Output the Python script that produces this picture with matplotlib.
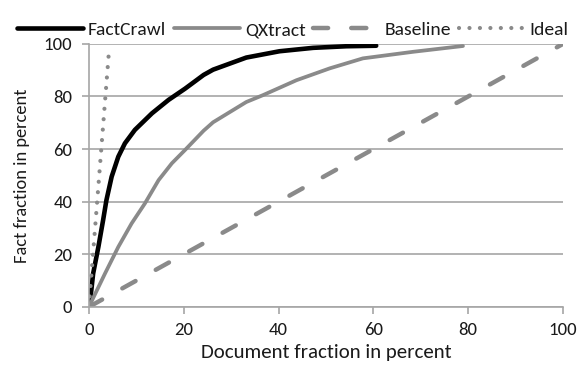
import matplotlib
matplotlib.use("Agg")
import matplotlib.pyplot as plt

plt.rcParams['font.family'] = ['Carlito', 'Lato', 'DejaVu Sans']

# values (document %, fact %)
factcrawl_x = [0, 0.2, 0.9, 2.0, 3.0, 3.7, 4.8, 6.2, 7.6, 9.7, 13.3, 16.8, 20.3, 24.2,
               26.2, 33.2, 40.2, 47.3, 54.3, 60.6]
factcrawl_y = [0, 1.3, 12.7, 22.8, 33, 40.6, 49.5, 57.1, 62.2, 67.3, 73.6, 78.7, 83, 88.2,
               90.2, 94.8, 97.2, 98.5, 99.1, 99.3]
qxtract_x = [0, 3.4, 6.2, 9.0, 11.8, 14.7, 17.5, 20.3, 24.2, 26.2, 33.2, 36.7, 43.8,
             50.8, 57.8, 68.4, 78.9]
qxtract_y = [0, 12.7, 22.8, 31.7, 39.3, 48.2, 54.6, 59.7, 67, 70.2, 77.9, 80.5, 86.2,
             90.7, 94.5, 97, 99.2]
baseline_x = [0, 100]
baseline_y = [0, 100]
ideal_x = [0, 4.2]
ideal_y = [0, 96.5]

fig = plt.figure(figsize=(5.81, 3.72), dpi=100)
ax = fig.add_axes([0.153, 0.175, 0.816, 0.707])

gray = '#8a8a8a'
ax.plot(factcrawl_x, factcrawl_y, color='black', lw=3.3, label='FactCrawl',
        solid_capstyle='round', solid_joinstyle='round')
ax.plot(qxtract_x, qxtract_y, color=gray, lw=2.7, label='QXtract',
        solid_capstyle='round', solid_joinstyle='round')
ax.plot(baseline_x, baseline_y, color=gray, lw=3.2, ls=(0, (3.4, 5.2)),
        dash_capstyle='round', label='Baseline')
ax.plot(ideal_x, ideal_y, color=gray, lw=3.0, ls=(0, (0.01, 2.5)),
        dash_capstyle='round', label='Ideal')

ax.set_xlim(0, 100)
ax.set_ylim(0, 100)
ax.set_xticks(range(0, 101, 20))
ax.set_yticks(range(0, 101, 20))
ax.yaxis.grid(True, color='#a6a6a6', lw=1.2)
ax.set_axisbelow(True)
for s in ['top', 'right']:
    ax.spines[s].set_visible(False)
for s in ['left', 'bottom']:
    ax.spines[s].set_color('#a6a6a6')
    ax.spines[s].set_linewidth(1.2)
ax.tick_params(colors='#a6a6a6', labelcolor='#1a1a1a', labelsize=13.5, length=5, width=1.2)
ax.tick_params(axis='y', pad=7)
ax.tick_params(axis='x', pad=6)

ax.set_xlabel('Document fraction in percent', fontsize=15, color='#1a1a1a', labelpad=4)
ax.set_ylabel('Fact fraction in percent', fontsize=13.3, color='#1a1a1a', labelpad=10)

ax.legend(loc='lower center', bbox_to_anchor=(0.43, 1.0), ncol=4, frameon=False,
          fontsize=14, handlelength=3.4, handletextpad=0.25, columnspacing=0.4,
          borderaxespad=0.1, borderpad=0.2, labelcolor='#1a1a1a')

fig.savefig('out.png', dpi=100)
